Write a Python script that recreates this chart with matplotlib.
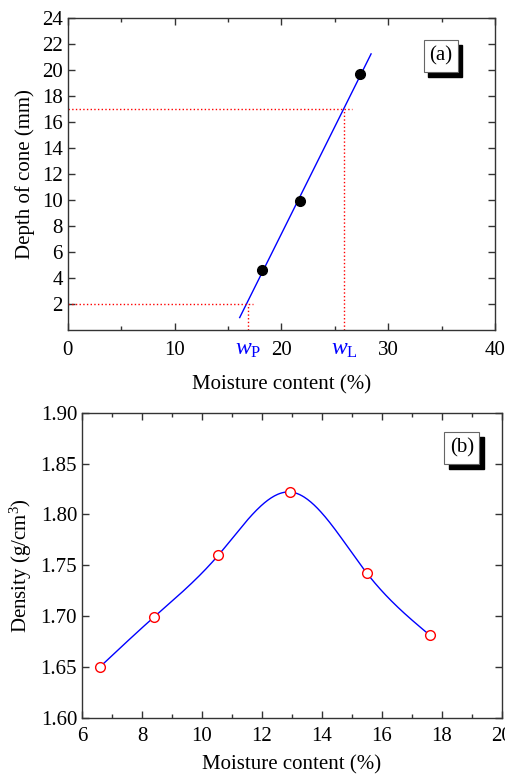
import numpy as np
import matplotlib
matplotlib.use('Agg')
import matplotlib.pyplot as plt
from matplotlib.patches import Rectangle
from matplotlib.ticker import MultipleLocator

plt.rcParams['font.family'] = 'Liberation Serif'
plt.rcParams['mathtext.fontset'] = 'custom'
plt.rcParams['mathtext.rm'] = 'Liberation Serif'
plt.rcParams['mathtext.it'] = 'Liberation Serif:italic'

# (a) cone penetration test
cone_moisture = [18.2, 21.7, 27.4]
cone_depth = [4.6, 9.9, 19.7]
fit_range = [16.1, 28.4]
w_plastic = 16.85
w_liquid = 25.87
depth_plastic = 2
depth_liquid = 17

# (b) compaction curve
comp_moisture = [6.6, 8.4, 10.55, 12.95, 15.5, 17.6]
comp_density = [1.650, 1.699, 1.760, 1.822, 1.742, 1.681]

W, H = 506, 778
FS = 15


def natural_spline(x, y, xs):
    x = np.asarray(x, float)
    y = np.asarray(y, float)
    n = len(x)
    h = np.diff(x)
    A = np.zeros((n, n))
    b = np.zeros(n)
    A[0, 0] = A[-1, -1] = 1
    for i in range(1, n - 1):
        A[i, i - 1] = h[i - 1]
        A[i, i] = 2 * (h[i - 1] + h[i])
        A[i, i + 1] = h[i]
        b[i] = 6 * ((y[i + 1] - y[i]) / h[i] - (y[i] - y[i - 1]) / h[i - 1])
    M = np.linalg.solve(A, b)
    out = np.zeros_like(xs)
    for k, t in enumerate(xs):
        i = min(max(np.searchsorted(x, t) - 1, 0), n - 2)
        a = x[i + 1] - t
        c = t - x[i]
        out[k] = (M[i] * a**3 + M[i + 1] * c**3) / (6 * h[i]) \
            + (y[i] / h[i] - M[i] * h[i] / 6) * a \
            + (y[i + 1] / h[i] - M[i + 1] * h[i] / 6) * c
    return out


def label_box(x0, y0, x1, y1, s):
    # box given in pixels from top-left; black shadow offset down-right
    off = 4.5
    tr = fig.transFigure
    fig.add_artist(Rectangle(((x0 + off) / W, 1 - (y1 + off) / H), (x1 - x0) / W, (y1 - y0) / H,
                             transform=tr, fc='black', ec='black', zorder=5))
    fig.add_artist(Rectangle((x0 / W, 1 - y1 / H), (x1 - x0) / W, (y1 - y0) / H,
                             transform=tr, fc='white', ec='#666666', lw=0.8, zorder=6))
    fig.text((x0 + x1) / 2 / W, 1 - (y0 + y1) / 2 / H, s, ha='center', va='center',
             fontsize=FS, zorder=7)


def style(ax):
    ax.tick_params(direction='in', which='both', top=True, right=True, labelsize=FS,
                   width=1, color='#333333')
    ax.tick_params(which='major', length=5)
    ax.tick_params(which='minor', length=3)
    for sp in ax.spines.values():
        sp.set_linewidth(1)
        sp.set_color('#333333')


fig = plt.figure(figsize=(W / 100, H / 100), dpi=100)

# --- panel (a)
ax1 = fig.add_axes([67.7 / W, 1 - 330 / H, 427.3 / W, 312 / H])
coef = np.polyfit(cone_moisture, cone_depth, 1)
xf = np.array(fit_range)
ax1.plot(xf, np.polyval(coef, xf), color='blue', lw=1)
ax1.plot(cone_moisture, cone_depth, 'o', color='black', ms=7)
ax1.plot([0, 26.6], [depth_liquid, depth_liquid], ':', color='red', lw=1)
ax1.plot([w_liquid, w_liquid], [0, depth_liquid], ':', color='red', lw=1)
ax1.plot([0, 17.3], [depth_plastic, depth_plastic], ':', color='red', lw=1)
ax1.plot([w_plastic, w_plastic], [0, depth_plastic], ':', color='red', lw=1)
ax1.set_xlim(0, 40)
ax1.set_ylim(0, 24)
ax1.xaxis.set_major_locator(MultipleLocator(10))
ax1.xaxis.set_minor_locator(MultipleLocator(5))
ax1.set_yticks(np.arange(2, 25, 2))
style(ax1)
ax1.tick_params(axis='x', pad=8)
ax1.set_xlabel('Moisture content (%)', fontsize=FS, labelpad=11)
ax1.set_ylabel('Depth of cone (mm)', fontsize=FS, labelpad=5)
for xv, s in [(w_plastic, r'$w_\mathrm{P}$'), (w_liquid, r'$w_\mathrm{L}$')]:
    ax1.text(xv, -0.03, s, transform=ax1.get_xaxis_transform(), ha='center', va='top',
             color='blue', fontsize=17)
label_box(423.5, 40, 457.5, 72, '(a)')

# --- panel (b)
ax2 = fig.add_axes([82 / W, 1 - 717.7 / H, 420 / W, 305 / H])
xs = np.linspace(comp_moisture[0], comp_moisture[-1], 300)
ax2.plot(xs, natural_spline(comp_moisture, comp_density, xs), color='blue', lw=1)
ax2.plot(comp_moisture, comp_density, 'o', mfc='white', mec='red', ms=7, mew=1)
ax2.set_xlim(6, 20)
ax2.set_ylim(1.60, 1.90)
ax2.xaxis.set_major_locator(MultipleLocator(2))
ax2.xaxis.set_minor_locator(MultipleLocator(1))
ax2.set_yticks(np.arange(1.60, 1.901, 0.05))
ax2.set_yticklabels(['%.2f' % v for v in np.arange(1.60, 1.901, 0.05)])
style(ax2)
ax2.tick_params(axis='x', pad=7)
ax2.set_xlabel('Moisture content (%)', fontsize=FS, labelpad=6)
ax2.set_ylabel(r'Density (g/cm$^3$)', fontsize=FS, labelpad=5)
label_box(444.3, 432.3, 479.3, 464, '(b)')

fig.savefig('out.png', dpi=100)
